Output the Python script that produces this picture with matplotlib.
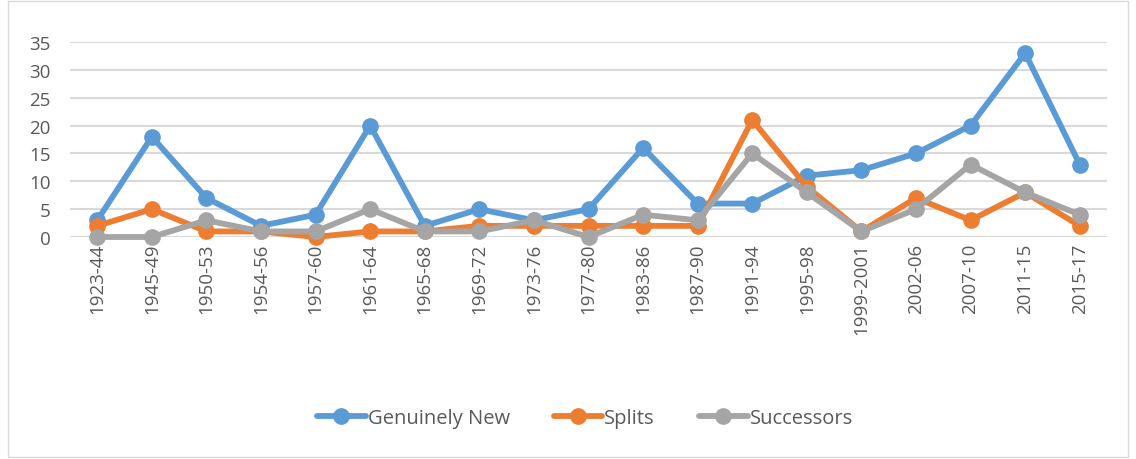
import matplotlib
matplotlib.use('Agg')
import matplotlib.pyplot as plt
from matplotlib.patches import Rectangle

periods = ['1923-44', '1945-49', '1950-53', '1954-56', '1957-60', '1961-64',
           '1965-68', '1969-72', '1973-76', '1977-80', '1983-86', '1987-90',
           '1991-94', '1995-98', '1999-2001', '2002-06', '2007-10', '2011-15',
           '2015-17']
genuinely_new = [3, 18, 7, 2, 4, 20, 2, 5, 3, 5, 16, 6, 6, 11, 12, 15, 20, 33, 13]
splits = [2, 5, 1, 1, 0, 1, 1, 2, 2, 2, 2, 2, 21, 9, 1, 7, 3, 8, 2]
successors = [0, 0, 3, 1, 1, 5, 1, 1, 3, 0, 4, 3, 15, 8, 1, 5, 13, 8, 4]

plt.rcParams['font.family'] = ['Open Sans', 'DejaVu Sans']
text_col = '#595959'

fig = plt.figure(figsize=(11.36, 4.6), dpi=100)
ax = fig.add_axes([0.0616, 0.4826, 0.9129, 0.4239])

x = list(range(len(periods)))
series = [('Genuinely New', genuinely_new, '#5B9BD5'),
          ('Splits', splits, '#ED7D31'),
          ('Successors', successors, '#A5A5A5')]
for name, vals, col in series:
    ax.plot(x, vals, color=col, lw=4.2, marker='o', ms=11, label=name,
            solid_capstyle='round', clip_on=False)

ax.set_xlim(-0.5, len(periods) - 0.5)
ax.set_ylim(0, 35)
ax.set_yticks(range(0, 36, 5))
ax.set_xticks(x)
ax.set_xticklabels(periods, rotation=90)
ax.tick_params(axis='x', length=0, labelsize=13.5, colors=text_col, pad=4)
ax.tick_params(axis='y', length=0, labelsize=13.5, colors=text_col, pad=14)
ax.grid(axis='y', color='#D9D9D9', lw=1.5)
ax.set_axisbelow(True)
for s in ax.spines.values():
    s.set_visible(False)

leg = fig.legend(loc='center', bbox_to_anchor=(0.515, 0.09), ncol=3,
                 frameon=False, fontsize=14.5, handlelength=2.4,
                 columnspacing=2.2, handletextpad=0.1)
for t in leg.get_texts():
    t.set_color(text_col)

fig.patches.append(Rectangle((0.007, 0.005), 0.986, 0.99, transform=fig.transFigure,
                             fill=False, edgecolor='#D9D9D9', lw=1))

fig.savefig('out.png', dpi=100)
